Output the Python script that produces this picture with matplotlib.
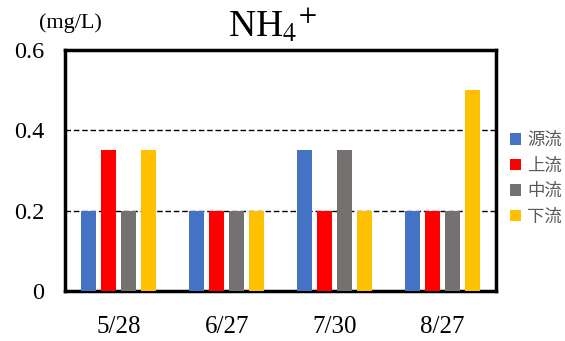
import matplotlib
matplotlib.use("Agg")
import matplotlib.pyplot as plt
import numpy as np

categories = ["5/28", "6/27", "7/30", "8/27"]
series_names = ["源流", "上流", "中流", "下流"]
genryu = [0.2, 0.2, 0.35, 0.2]
joryu = [0.35, 0.2, 0.2, 0.2]
churyu = [0.2, 0.2, 0.35, 0.2]
karyu = [0.35, 0.2, 0.2, 0.5]
colors = ["#4472C4", "#FF0000", "#767171", "#FFC000"]
yticks = [0, 0.2, 0.4, 0.6]
ytick_labels = ["0", "0.2", "0.4", "0.6"]

serif = ["Liberation Serif", "DejaVu Serif"]
cjk = ["Noto Sans CJK JP", "DejaVu Sans"]

fig = plt.figure(figsize=(5.65, 3.41), dpi=100)
ax = fig.add_axes([0.115, 0.147, 0.763, 0.706])

x = np.arange(len(categories))
w = 0.14
step = 0.185
data = [genryu, joryu, churyu, karyu]
for i, (vals, c, n) in enumerate(zip(data, colors, series_names)):
    ax.bar(x + (i - 1.5) * step, vals, width=w, color=c, label=n, zorder=3)

ax.set_xlim(-0.5, 3.5)
ax.set_ylim(0, 0.6)
ax.set_yticks(yticks)
ax.set_yticklabels(ytick_labels, fontfamily=serif, fontsize=17.5)
ax.set_xticks(x)
ax.set_xticklabels(categories, fontfamily=serif, fontsize=18)
ax.tick_params(length=0)
ax.tick_params(axis="y", pad=15)
ax.tick_params(axis="x", pad=18)
for yv in [0.2, 0.4]:
    ax.axhline(yv, color="black", linestyle=(0, (4, 2)), linewidth=1, zorder=2)
for s in ax.spines.values():
    s.set_linewidth(2.5)
    s.set_color("black")

fig.text(228 / 565, 1 - 37 / 341, "NH$_4$$^{+}$", fontfamily=serif, fontsize=27,
         ha="left", va="baseline", math_fontfamily="stix")
fig.text(70 / 565, 1 - 23 / 341, "(mg/L)", fontfamily=serif, fontsize=16,
         ha="center", va="center")

leg = ax.legend(loc="center left", bbox_to_anchor=(1.032, 0.467), frameon=False,
                prop={"family": cjk, "size": 12.5}, handlelength=0.63, handleheight=0.63,
                handletextpad=0.35, labelspacing=0.43, borderaxespad=0, borderpad=0,
                labelcolor="#595959")

fig.savefig("out.png", dpi=100)
